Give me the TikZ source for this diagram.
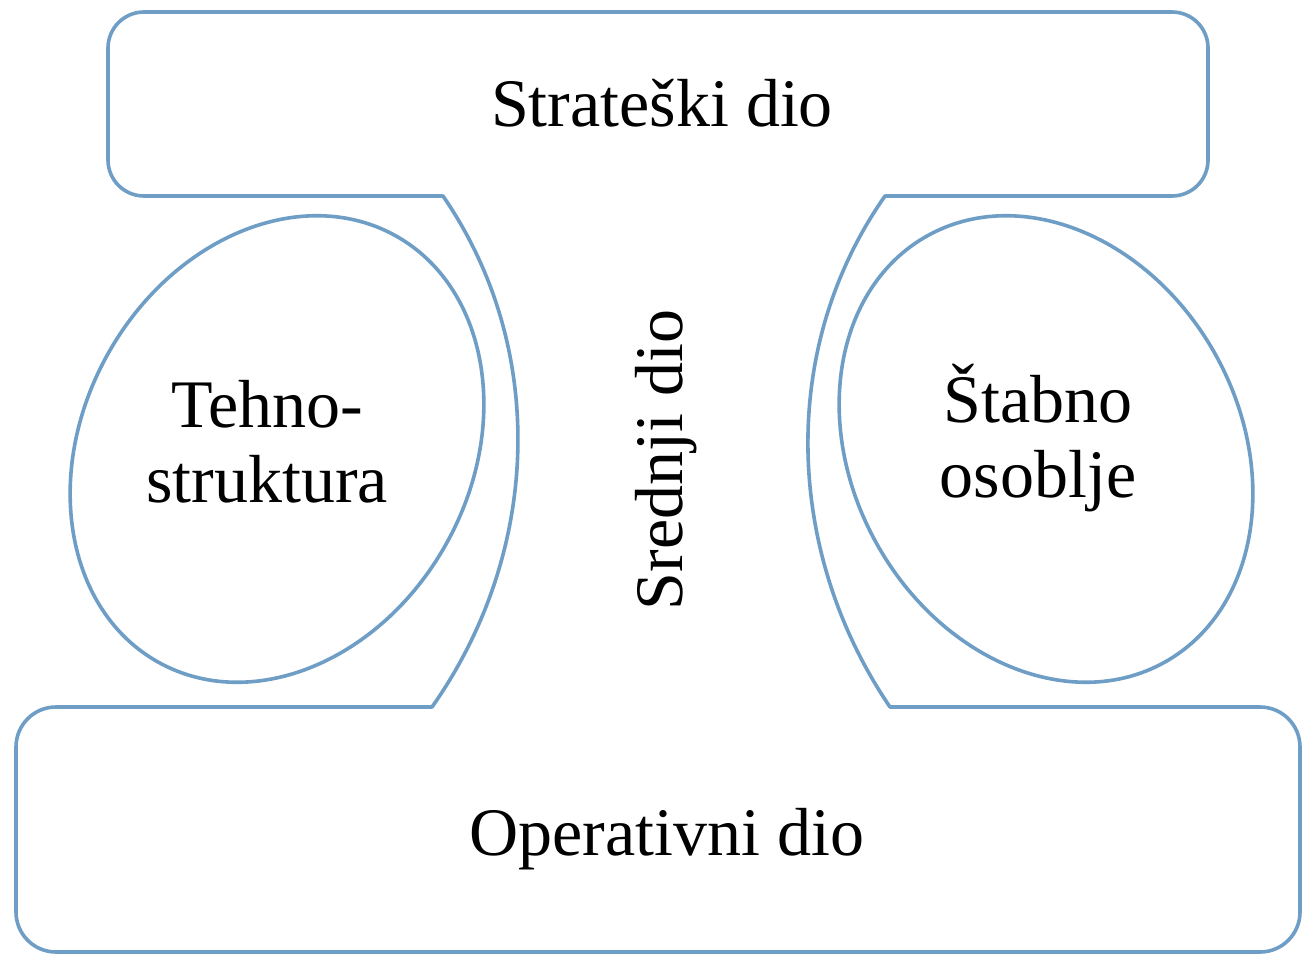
\documentclass[tikz,border=0pt]{standalone}
\usepackage{fontspec}
\setmainfont{Liberation Serif}
\definecolor{edge}{HTML}{6E9DC6}
\begin{document}
\begin{tikzpicture}[x=1pt,y=-1pt,
  frame/.style={draw=edge, line width=3.6pt, line cap=round, line join=round},
  label/.style={font=\fontsize{68}{75}\selectfont, inner sep=0pt, align=center, text=black}]
\useasboundingbox (0,0) rectangle (1304,955);
\fill[white] (0,0) rectangle (1304,955);
% where the side brackets meet the two bands
\coordinate (tl) at (443,196);
\coordinate (tr) at (885,196);
\coordinate (bl) at (432,707);
\coordinate (br) at (890,707);
% centres of the two side ellipses
\coordinate (lc) at (277,449);
\coordinate (rc) at (1046,449);
% top band (strategic apex)
\draw[frame, rounded corners=36pt] (tl) -- (108,196) -- (108,12) -- (1208,12) -- (1208,196) -- (tr);
% bottom band (operating core)
\draw[frame, rounded corners=40pt] (bl) -- (16,707) -- (16,952) -- (1300,952) -- (1300,707) -- (br);
% curved sides of the middle line
\draw[frame] (tl) .. controls (549,350) and (540,554) .. (bl);
\draw[frame] (tr) .. controls (777,350) and (786,554) .. (br);
% tilted ellipses
\draw[frame, rotate around={-29:(lc)}] (lc) ellipse [x radius=194, y radius=244];
\draw[frame, rotate around={29:(rc)}] (rc) ellipse [x radius=194, y radius=244];
% labels (multi-line nodes sit on the baseline of their last line)
\node[label, anchor=base] (strat) at (662,127) {Strateški dio};
\node[label, anchor=base] (oper) at (667,855) {Operativni dio};
\node[label, anchor=base] (tehno) at (267,502) {Tehno-\\struktura};
\node[label, anchor=base] (stab) at (1038,497) {Štabno\\osoblje};
\node[label, anchor=base, rotate=90] (sred) at (682,460) {Srednji dio};
\end{tikzpicture}
\end{document}
